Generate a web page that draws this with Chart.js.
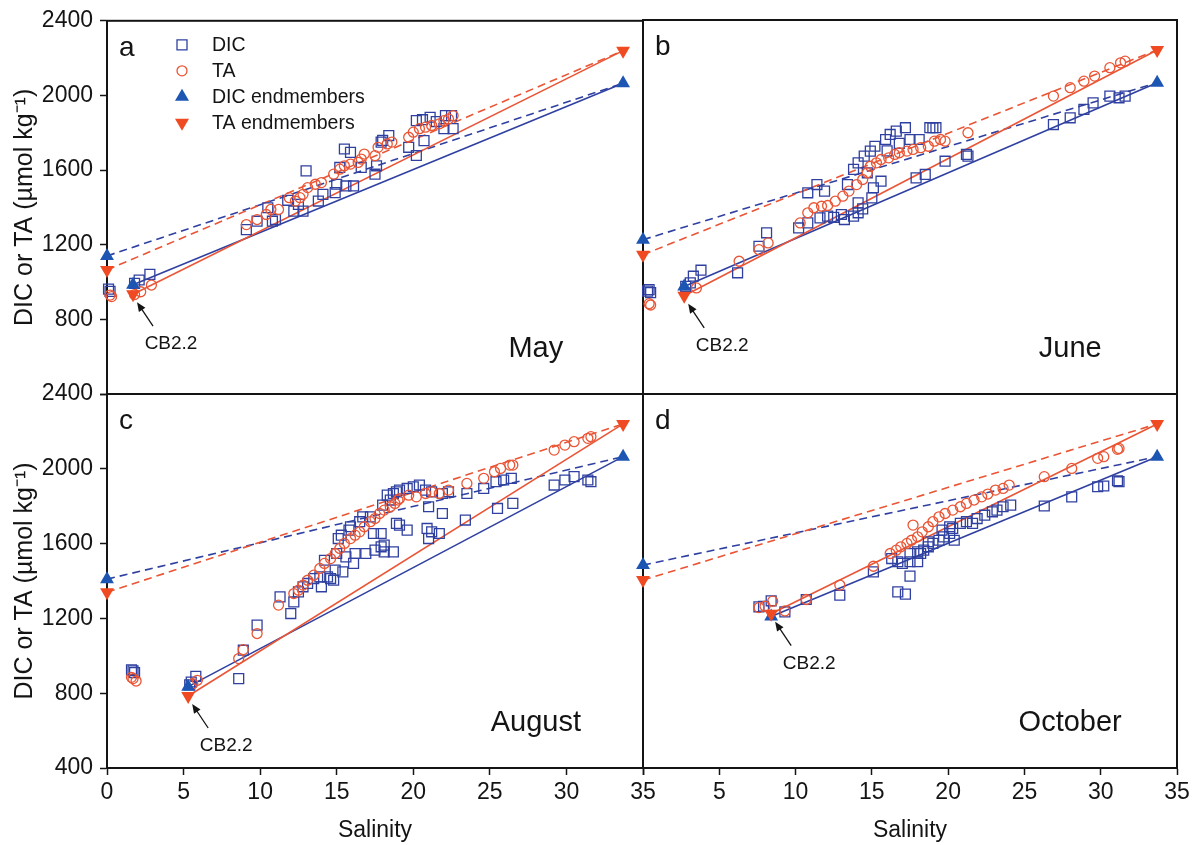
<!DOCTYPE html>
<html>
<head>
<meta charset="utf-8">
<script src="https://cdn.jsdelivr.net/npm/chart.js@4.4.1/dist/chart.umd.min.js"></script>
<style>
  body { margin: 0; background: #fff; }
  #wrap { position: relative; width: 1198px; height: 845px; overflow: hidden; }
  #wrap canvas { position: absolute; }
</style>
</head>
<body>
<div id="wrap">
  <canvas id="panelA" width="660" height="424" style="left:0;top:0"></canvas>
  <canvas id="panelB" width="573" height="424" style="left:625px;top:0"></canvas>
  <canvas id="panelC" width="660" height="485" style="left:0;top:360px"></canvas>
  <canvas id="panelD" width="573" height="485" style="left:625px;top:360px"></canvas>
</div>
<script>
const FONT = '"Liberation Sans", Arial, sans-serif'
const INK = '#141414'
const BLUE = '#2f40a0'
const BLUE_FILL = '#1d55b3'
const RED = '#ea5535'
const RED_FILL = '#f04a22'

const months = ['May', 'June', 'August', 'October']
const letters = ['a', 'b', 'c', 'd']
const xTicks = [0, 5, 10, 15, 20, 25, 30, 35]
const yTicks = [400, 800, 1200, 1600, 2000, 2400]

// endmembers: river (S = 0), station CB2.2, ocean
const riverDIC = [1140, 1225, 1410, 1485]
const riverTA = [1065, 1145, 1340, 1405]
const cbSalinity = [1.7, 2.7, 5.3, 8.4]
const cbDIC = [985, 975, 835, 1210]
const cbTA = [935, 925, 785, 1225]
const oceanSalinity = 33.7
const oceanDIC = 2065
const oceanTA = 2240

// [salinity, umol/kg]
const mayDIC = [[0.1,962],[0.2,950],[1.8,993],[2.1,1011],[2.8,1041],[9.1,1281],[9.8,1326],[10.5,1398],[10.8,1326],[11.0,1335],
  [11.8,1438],[12.2,1380],[12.5,1416],[12.8,1380],[13.0,1596],[13.8,1434],[14.1,1470],[14.9,1479],[15.0,1524],[15.2,1614],
  [15.5,1713],[15.6,1515],[15.9,1695],[16.1,1515],[16.6,1614],[17.5,1578],[17.6,1623],[17.9,1750],[18.0,1759],[18.4,1785],
  [19.7,1722],[20.2,1678],[20.2,1865],[20.6,1870],[20.7,1758],[21.1,1883],[21.5,1860],[22.0,1822],[22.1,1892],[22.5,1892],[22.6,1822]]
const mayTA = [[0.2,930],[0.3,922],[1.8,933],[2.2,948],[2.9,984],[9.1,1308],[9.8,1335],[10.4,1362],[10.7,1389],[11.2,1389],
  [11.9,1452],[12.3,1434],[12.6,1452],[12.8,1470],[13.1,1506],[13.6,1524],[14.0,1533],[14.8,1578],[15.2,1605],[15.5,1623],
  [15.9,1632],[16.4,1641],[16.6,1659],[16.8,1686],[17.5,1677],[17.7,1722],[18.3,1740],[18.6,1750],[19.7,1776],[20.0,1803],
  [20.4,1822],[20.8,1830],[21.2,1839],[21.7,1848],[22.0,1865],[22.3,1874],[22.6,1892]]

const junDIC = [[0.3,950],[0.4,958],[0.5,942],[2.8,976],[3.1,994],[3.3,1030],[3.8,1062],[6.2,1048],[7.6,1190],[8.1,1262],
  [10.2,1288],[10.8,1315],[10.8,1476],[11.4,1520],[11.6,1342],[11.9,1485],[12.1,1351],[12.5,1345],[13.0,1360],[13.2,1333],
  [13.4,1520],[13.8,1351],[13.8,1601],[14.1,1369],[14.1,1422],[14.1,1636],[14.4,1390],[14.5,1672],[14.7,1583],[14.9,1699],
  [15.0,1449],[15.1,1503],[15.2,1725],[15.6,1538],[15.9,1761],[16.0,1700],[16.2,1788],[16.6,1806],[16.8,1740],[17.2,1824],
  [17.5,1761],[17.9,1556],[18.1,1761],[18.5,1574],[18.8,1824],[19.0,1824],[19.2,1824],[19.8,1645],[21.2,1681],[21.3,1672],
  [26.9,1841],[28.0,1877],[28.9,1922],[29.5,1957],[30.6,1993],[31.2,1984],[31.6,1993]]
const junTA = [[0.4,883],[0.5,876],[3.5,967],[6.3,1110],[7.6,1172],[8.2,1208],[10.3,1315],[10.8,1369],[11.2,1396],[11.7,1404],
  [12.1,1408],[12.6,1431],[13.1,1458],[13.5,1485],[14.0,1520],[14.4,1547],[14.7,1583],[14.9,1618],[15.3,1636],[15.6,1654],
  [16.1,1663],[16.5,1681],[16.8,1690],[17.3,1699],[17.7,1708],[18.2,1717],[18.7,1725],[19.1,1752],[19.5,1761],[19.8,1752],
  [21.3,1797],[26.9,1993],[28.0,2038],[28.9,2073],[29.6,2100],[30.6,2145],[31.3,2171],[31.6,2180]]

const augDIC = [[1.6,925],[1.7,920],[1.8,910],[5.4,845],[5.5,860],[5.8,890],[8.6,878],[8.9,1030],[9.8,1164],[11.3,1315],
  [12.0,1226],[12.2,1288],[12.5,1342],[12.8,1369],[13.1,1387],[13.5,1413],[13.9,1422],[14.0,1369],[14.2,1511],[14.4,1422],
  [14.6,1413],[14.8,1404],[14.9,1458],[15.0,1547],[15.1,1627],[15.3,1645],[15.4,1449],[15.6,1529],[15.8,1672],[15.9,1690],
  [16.1,1494],[16.2,1547],[16.5,1717],[16.7,1743],[16.9,1547],[17.2,1743],[17.4,1654],[17.5,1565],[17.9,1583],[17.9,1654],
  [18.0,1806],[18.1,1556],[18.1,1592],[18.3,1859],[18.5,1833],[18.7,1868],[18.7,1556],[18.9,1877],[18.9,1708],[19.1,1886],
  [19.1,1699],[19.6,1895],[19.6,1672],[20.0,1904],[20.4,1913],[20.8,1886],[20.9,1681],[21.0,1627],[21.0,1797],[21.2,1877],
  [21.2,1663],[21.7,1654],[21.9,1868],[21.9,1761],[22.3,1877],[23.4,1726],[23.5,1868],[24.6,1895],[25.4,1931],[25.5,1788],
  [25.9,1940],[26.4,1949],[26.5,1815],[29.2,1913],[29.9,1940],[30.5,1958],[31.4,1940],[31.6,1931]]
const augTA = [[1.6,885],[1.7,878],[1.9,865],[5.6,851],[5.9,869],[8.6,985],[8.9,1033],[9.8,1119],[11.2,1271],[12.2,1333],
  [12.5,1351],[12.8,1378],[13.1,1404],[13.5,1431],[13.9,1467],[14.2,1494],[14.6,1520],[14.9,1547],[15.2,1574],[15.5,1601],
  [15.9,1627],[16.2,1645],[16.5,1663],[16.8,1690],[17.2,1717],[17.5,1734],[17.8,1761],[18.1,1779],[18.5,1797],[18.8,1815],
  [19.0,1833],[19.1,1841],[19.7,1859],[20.2,1850],[20.8,1868],[21.2,1877],[21.7,1868],[22.3,1886],[23.5,1922],[24.6,1949],
  [25.3,1984],[25.7,2002],[26.3,2020],[26.5,2020],[29.2,2100],[29.9,2127],[30.5,2145],[31.4,2163],[31.6,2172]]

const octDIC = [[7.6,1262],[7.9,1265],[8.4,1294],[9.3,1235],[10.7,1301],[12.9,1324],[15.1,1449],[16.3,1520],[16.7,1503],[16.7,1342],
  [17.0,1494],[17.2,1330],[17.5,1503],[17.5,1426],[17.5,1547],[18.0,1503],[18.0,1556],[18.2,1547],[18.4,1565],[18.7,1583],
  [18.7,1610],[19.0,1601],[19.4,1618],[19.6,1672],[19.7,1636],[20.1,1654],[20.1,1690],[20.3,1681],[20.4,1618],[20.8,1708],
  [21.2,1717],[21.6,1708],[21.9,1734],[22.4,1752],[22.9,1770],[23.2,1779],[23.6,1797],[24.1,1806],[26.3,1801],[28.1,1850],
  [29.8,1904],[30.2,1908],[31.1,1936],[31.2,1931]]
const octTA = [[7.6,1258],[8.0,1265],[8.5,1292],[9.3,1240],[10.7,1301],[12.9,1378],[15.1,1479],[16.2,1547],[16.6,1565],[16.9,1583],
  [17.3,1601],[17.6,1618],[17.7,1699],[18.0,1636],[18.3,1663],[18.7,1690],[19.0,1717],[19.4,1743],[19.8,1761],[20.3,1779],
  [20.8,1797],[21.2,1815],[21.7,1833],[22.2,1850],[22.6,1865],[23.1,1886],[23.6,1895],[24.0,1913],[26.3,1958],[28.1,2002],
  [29.8,2056],[30.2,2065],[31.1,2104],[31.2,2109]]

const toPoints = arr => arr.map(p => ({ x: p[0], y: p[1] }))

// small marker shapes for the legend in panel a
const drawMarker = (ctx, kind, x, y) => {
  ctx.beginPath()
  if (kind === 'DIC') {
    ctx.rect(x - 5, y - 5, 10, 10)
    ctx.strokeStyle = BLUE; ctx.lineWidth = 1.3; ctx.stroke()
  } else if (kind === 'TA') {
    ctx.arc(x, y, 5, 0, Math.PI * 2)
    ctx.strokeStyle = RED; ctx.lineWidth = 1.3; ctx.stroke()
  } else if (kind === 'up') {
    ctx.moveTo(x, y - 8); ctx.lineTo(x + 7, y + 4); ctx.lineTo(x - 7, y + 4); ctx.closePath()
    ctx.fillStyle = BLUE_FILL; ctx.fill()
  } else {
    ctx.moveTo(x, y + 8); ctx.lineTo(x + 7, y - 4); ctx.lineTo(x - 7, y - 4); ctx.closePath()
    ctx.fillStyle = RED_FILL; ctx.fill()
  }
}

const panelDeco = {
  id: 'panelDeco',
  beforeDatasetsDraw(chart) {
    const { ctx, chartArea: ca } = chart
    ctx.save()
    ctx.strokeStyle = INK
    ctx.lineWidth = 2
    ctx.strokeRect(ca.left, ca.top, ca.right - ca.left, ca.bottom - ca.top)
    ctx.restore()
  },
  afterDatasetsDraw(chart, args, opts) {
    const { ctx, chartArea: ca, scales: { x, y } } = chart
    const i = opts.idx
    ctx.save()
    ctx.fillStyle = INK
    ctx.textBaseline = 'alphabetic'

    ctx.font = '28px ' + FONT
    ctx.textAlign = 'left'
    ctx.fillText(letters[i], ca.left + 12, ca.top + 35)

    ctx.font = '29px ' + FONT
    ctx.textAlign = 'center'
    ctx.fillText(months[i], ca.right - (ca.right - ca.left) * 0.2, ca.bottom - 37)

    // arrow pointing at the CB2.2 endmember
    const px = x.getPixelForValue(cbSalinity[i])
    const py = y.getPixelForValue(cbTA[i])
    const tipX = px + 4, tipY = py + 8
    const tailX = px + 20, tailY = py + 32
    const ang = Math.atan2(tipY - tailY, tipX - tailX)
    ctx.strokeStyle = INK
    ctx.lineWidth = 1.3
    ctx.beginPath()
    ctx.moveTo(tailX, tailY)
    ctx.lineTo(tipX - Math.cos(ang) * 6, tipY - Math.sin(ang) * 6)
    ctx.stroke()
    ctx.beginPath()
    ctx.moveTo(tipX, tipY)
    ctx.lineTo(tipX - Math.cos(ang - 0.4) * 10, tipY - Math.sin(ang - 0.4) * 10)
    ctx.lineTo(tipX - Math.cos(ang + 0.4) * 10, tipY - Math.sin(ang + 0.4) * 10)
    ctx.closePath()
    ctx.fill()
    ctx.font = '19px ' + FONT
    ctx.fillText('CB2.2', px + 38, py + 55)

    if (i === 0) {
      const rows = [['DIC', 'DIC'], ['TA', 'TA'], ['up', 'DIC endmembers'], ['down', 'TA endmembers']]
      ctx.font = '19.5px ' + FONT
      ctx.textAlign = 'left'
      ctx.textBaseline = 'middle'
      rows.forEach((r, k) => {
        const ly = ca.top + 24 + k * 26
        drawMarker(ctx, r[0], ca.left + 75, ly)
        ctx.fillStyle = INK
        ctx.fillText(r[1], ca.left + 105, ly + 1)
      })
    }
    ctx.restore()
  }
}

const lineSet = (pts, color, dash) => ({
  data: pts, showLine: true, pointRadius: 0, borderColor: color,
  borderWidth: 1.6, borderDash: dash, fill: false, clip: false
})

const makePanel = (id, i, dic, ta) => {
  const leftCol = i % 2 === 0
  const bottomRow = i >= 2
  const datasets = [
    {
      label: 'TA endmembers',
      data: [{ x: 0, y: riverTA[i] }, { x: cbSalinity[i], y: cbTA[i] }, { x: oceanSalinity, y: oceanTA }],
      pointStyle: 'triangle', rotation: 180, pointRadius: 8,
      backgroundColor: RED_FILL, borderColor: RED_FILL, borderWidth: 0, clip: false
    },
    {
      label: 'DIC endmembers',
      data: [{ x: 0, y: riverDIC[i] }, { x: cbSalinity[i], y: cbDIC[i] }, { x: oceanSalinity, y: oceanDIC }],
      pointStyle: 'triangle', pointRadius: 8,
      backgroundColor: BLUE_FILL, borderColor: BLUE_FILL, borderWidth: 0, clip: false
    },
    {
      label: 'TA', data: toPoints(ta), pointStyle: 'circle', pointRadius: 5,
      borderColor: RED, backgroundColor: 'rgba(0,0,0,0)', borderWidth: 1.3, clip: false
    },
    {
      label: 'DIC', data: toPoints(dic), pointStyle: 'rect', pointRadius: 7,
      borderColor: BLUE, backgroundColor: 'rgba(0,0,0,0)', borderWidth: 1.3, clip: false
    },
    // conservative mixing lines: CB2.2 -> ocean (solid), river -> ocean (dashed)
    lineSet([{ x: cbSalinity[i], y: cbTA[i] }, { x: oceanSalinity, y: oceanTA }], RED, []),
    lineSet([{ x: cbSalinity[i], y: cbDIC[i] }, { x: oceanSalinity, y: oceanDIC }], BLUE, []),
    lineSet([{ x: 0, y: riverTA[i] }, { x: oceanSalinity, y: oceanTA }], RED, [8, 5]),
    lineSet([{ x: 0, y: riverDIC[i] }, { x: oceanSalinity, y: oceanDIC }], BLUE, [8, 5])
  ]

  return new Chart(document.getElementById(id), {
    type: 'scatter',
    data: { datasets },
    options: {
      responsive: false,
      animation: false,
      events: [],
      layout: {
        padding: {
          top: bottomRow ? 34 : 20,
          bottom: bottomRow ? 0 : 30,
          left: leftCol ? 0 : 18,
          right: leftCol ? 17 : 21
        }
      },
      plugins: {
        legend: { display: false },
        tooltip: { enabled: false },
        panelDeco: { idx: i }
      },
      scales: {
        x: {
          type: 'linear', min: 0, max: 35, display: bottomRow,
          afterBuildTicks: s => { s.ticks = xTicks.map(v => ({ value: v })) },
          afterFit: s => { if (bottomRow) s.height = 77 },
          grid: { drawOnChartArea: false, tickLength: 7, tickWidth: 1.5, tickColor: INK },
          border: { color: INK, width: 2 },
          ticks: {
            font: { family: FONT, size: 23 }, color: INK, padding: 4, maxRotation: 0, autoSkip: false,
            callback: v => (!leftCol && v === 0) ? '' : String(v)
          },
          title: {
            display: true, text: 'Salinity', color: INK,
            font: { family: FONT, size: 23 }, padding: { top: 0, bottom: 1 }
          }
        },
        y: {
          type: 'linear', min: 400, max: 2400, display: leftCol,
          afterBuildTicks: s => { s.ticks = yTicks.map(v => ({ value: v })) },
          afterFit: s => { if (leftCol) s.width = 107 },
          grid: { drawOnChartArea: false, tickLength: 7, tickWidth: 1.5, tickColor: INK },
          border: { color: INK, width: 2 },
          ticks: {
            font: { family: FONT, size: 23 }, color: INK, padding: 7,
            callback: v => (!bottomRow && v === 400) ? '' : String(v)
          },
          title: {
            display: true, text: 'DIC or TA (µmol kg⁻¹)', color: INK,
            font: { family: FONT, size: 25 }, padding: { top: 10, bottom: 0 }
          }
        }
      }
    },
    plugins: [panelDeco]
  })
}

makePanel('panelA', 0, mayDIC, mayTA)
makePanel('panelB', 1, junDIC, junTA)
makePanel('panelC', 2, augDIC, augTA)
makePanel('panelD', 3, octDIC, octTA)
</script>
</body>
</html>
